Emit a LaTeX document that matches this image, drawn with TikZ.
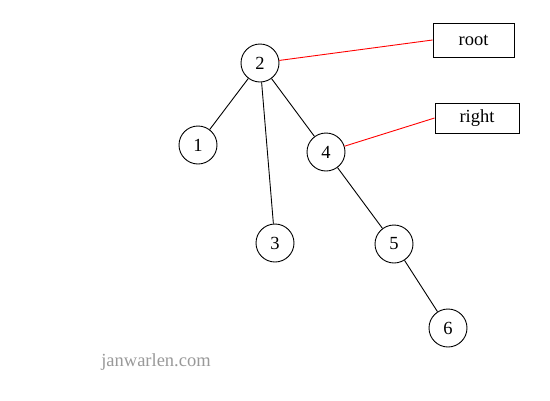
\documentclass[tikz,border=0pt]{standalone}
\usepackage{fontspec}
\setmainfont{Liberation Serif}
\begin{document}
\begin{tikzpicture}[x=1pt,y=-1pt,
  vert/.style={draw,circle,minimum size=38pt,inner sep=0pt,line width=0.9pt,font=\fontsize{18.5}{22}\selectfont},
  lbl/.style={draw,rectangle,inner sep=0pt,line width=0.9pt,font=\fontsize{18.5}{22}\selectfont},
  edge/.style={draw,black,line width=0.9pt},
  ptr/.style={draw,red,line width=0.9pt}]
\useasboundingbox (0,0) rectangle (550,400);
\node[vert] (n2) at (260,63) {2};
\node[vert] (n1) at (198,145) {1};
\node[vert] (n4) at (326,152) {4};
\node[vert] (n3) at (275,243) {3};
\node[vert] (n5) at (394,244) {5};
\node[vert] (n6) at (448,328) {6};
\node[lbl,minimum width=81pt,minimum height=34pt] (root) at (473.5,40) {root};
\node[lbl,minimum width=84pt,minimum height=30pt] (right) at (477,118) {right};
\node[text=black!40,font=\fontsize{18.5}{22}\selectfont] (wm) at (156,362) {janwarlen.com};
\draw[edge] (n2) -- (n1);
\draw[edge] (n2) -- (n3);
\draw[edge] (n2) -- (n4);
\draw[edge] (n4) -- (n5);
\draw[edge] (n5) -- (n6);
\draw[ptr] (n2) -- (root.west);
\draw[ptr] (n4) -- (right.west);
\end{tikzpicture}
\end{document}
